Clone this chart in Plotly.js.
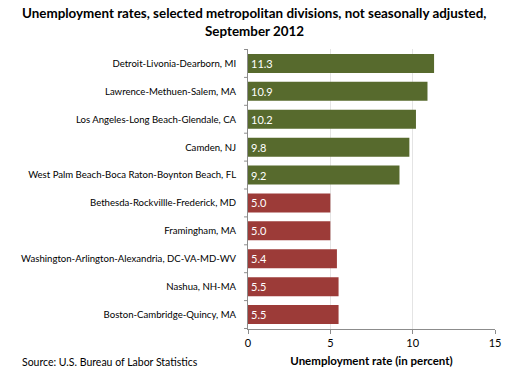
<!DOCTYPE html>
<html>
<head>
<meta charset="utf-8">
<script src="https://cdn.plot.ly/plotly-3.0.1.min.js"></script>
<style>html,body{margin:0;padding:0;background:#fff}#chart{width:508px;height:377px}</style>
</head>
<body>
<div id="chart"></div>
<script>
const categories = [
  "Detroit-Livonia-Dearborn, MI",
  "Lawrence-Methuen-Salem, MA",
  "Los Angeles-Long Beach-Glendale, CA",
  "Camden, NJ",
  "West Palm Beach-Boca Raton-Boynton Beach, FL",
  "Bethesda-Rockvillle-Frederick, MD",
  "Framingham, MA",
  "Washington-Arlington-Alexandria, DC-VA-MD-WV",
  "Nashua, NH-MA",
  "Boston-Cambridge-Quincy, MA"
];
const rates = [11.3, 10.9, 10.2, 9.8, 9.2, 5.0, 5.0, 5.4, 5.5, 5.5];
const groups = ["high","high","high","high","high","low","low","low","low","low"];
const groupColors = {high: "#576a2d", low: "#9c3b38"};
const xTicks = [0, 5, 10, 15];
const titleLines = ["Unemployment rates, selected metropolitan divisions, not seasonally adjusted,", "September 2012"];
const sourceText = "Source: U.S. Bureau of Labor Statistics";
const xTitle = "Unemployment rate (in percent)";

const font = "Lato, Open Sans, sans-serif";
const trace = {
  type: "bar",
  orientation: "h",
  x: rates,
  y: categories,
  marker: {color: groups.map(g => groupColors[g]), line: {width: 0}},
  text: rates.map(v => v.toFixed(1)),
  textposition: "inside",
  insidetextanchor: "start",
  textangle: 0,
  constraintext: "none",
  textfont: {color: "#ffffff", size: 11, family: font},
  hoverinfo: "none"
};
const layout = {
  width: 508, height: 377,
  margin: {l: 248, r: 13, t: 49, b: 48},
  paper_bgcolor: "#fff", plot_bgcolor: "#fff",
  bargap: 0.32,
  showlegend: false,
  xaxis: {
    range: [0, 15],
    tickvals: xTicks,
    ticktext: xTicks.map(String),
    showgrid: true, gridcolor: "#e4e4e4", gridwidth: 1,
    zeroline: false,
    showline: true, linecolor: "#8c8c8c", linewidth: 1,
    ticks: "outside", ticklen: 4, tickcolor: "#8c8c8c",
    tickfont: {family: font, size: 11, color: "#000"},
    title: {text: "<b>" + xTitle + "</b>", font: {family: font, size: 11.5, color: "#000"}, standoff: 8}
  },
  yaxis: {
    autorange: "reversed",
    showgrid: false, zeroline: false,
    showline: true, linecolor: "#8c8c8c", linewidth: 1,
    ticks: "",
    tickfont: {family: font, size: 9.6, color: "#000"},
    ticklabelstandoff: 9
  },
  shapes: categories.map((c, i) => ({
    type: "line", xref: "paper", yref: "y",
    x0: -0.016, x1: 0, y0: i - 0.5, y1: i - 0.5,
    line: {color: "#8c8c8c", width: 1}
  })).concat([{
    type: "line", xref: "paper", yref: "y",
    x0: -0.016, x1: 0, y0: categories.length - 0.5, y1: categories.length - 0.5,
    line: {color: "#8c8c8c", width: 1}
  }]),
  annotations: [
    {
      text: "<b>" + titleLines[0] + "</b>",
      xref: "paper", yref: "paper", x: 0, y: 1.129,
      xanchor: "center", yanchor: "middle", showarrow: false,
      font: {family: font, size: 13.4, color: "#000"}
    },
    {
      text: "<b>" + titleLines[1] + "</b>",
      xref: "paper", yref: "paper", x: 0, y: 1.064,
      xanchor: "center", yanchor: "middle", showarrow: false,
      font: {family: font, size: 13.4, color: "#000"}
    },
    {
      text: sourceText,
      xref: "paper", yref: "paper", x: -0.923, y: -0.118,
      xanchor: "left", yanchor: "middle", showarrow: false,
      font: {family: font, size: 10.5, color: "#000"}
    }
  ]
};
// center title lines on the page (x = 254 px)
layout.annotations[0].x = (254 - 248) / 247;
layout.annotations[1].x = (254 - 248) / 247;
Plotly.newPlot("chart", [trace], layout, {displayModeBar: false, staticPlot: true});
</script>
</body>
</html>
